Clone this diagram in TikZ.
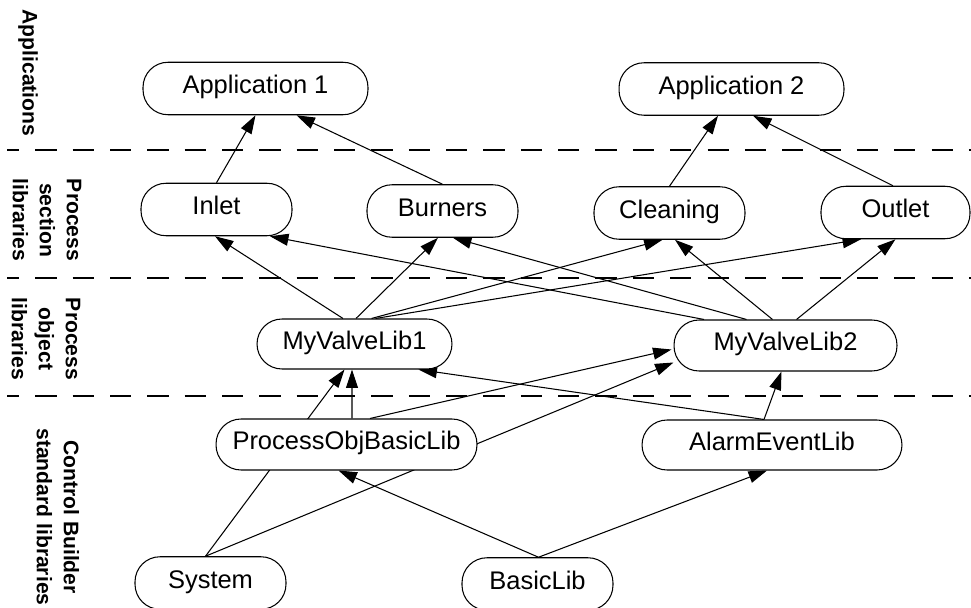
\documentclass[tikz,border=0pt]{standalone}
\usepackage{fontspec}
\setmainfont{Liberation Sans}
\usetikzlibrary{calc,arrows.meta,backgrounds}

\begin{document}
\begin{tikzpicture}[x=0.02cm, y=-0.02cm,
    lib/.style={draw, line width=0.6pt, fill=white, rounded corners=0.5cm,
        minimum height=1.05cm, inner sep=0pt,
        text height=10.5pt, text depth=4.8pt,
        font=\fontsize{14.5}{17}\selectfont},
    link/.style={line width=0.6pt, -{Triangle[length=10.5pt,width=6.8pt]}},
    tier/.style={rotate=-90, align=center,
        font=\bfseries\fontsize{12}{15.35}\selectfont},
    layerline/.style={line width=1.4pt, dash pattern=on 0.425cm off 0.322cm,
        dash phase=0.18cm}]

    % Fix the picture size
    \useasboundingbox (0,0) rectangle (971,608);

    % Layer separators
    \draw[layerline] (7,150) -- (971,150);
    \draw[layerline] (7,278) -- (971,278);
    \draw[layerline] (7,396) -- (971,396);

    % Layer names
    \node[tier] (tapp)  at (28,73)  {Applications};
    \node[tier] (tsect) at (47,220) {Process\\section\\libraries};
    \node[tier] (tobj)  at (46,339) {Process\\object\\libraries};
    \node[tier] (tstd)  at (58,517) {Control Builder\\standard libraries};

    % Applications
    \node[lib, minimum width=4.5cm] (app1) at (255.5,88.5) {Application 1};
    \node[lib, minimum width=4.5cm] (app2) at (731.5,89) {Application 2};

    % Process section libraries
    \node[lib, minimum width=3.02cm] (inlet)    at (216.5,209.5) {Inlet};
    \node[lib, minimum width=3.02cm] (burners)  at (442.5,211) {Burners};
    \node[lib, minimum width=3.02cm] (cleaning) at (669.5,213) {Cleaning};
    \node[lib, minimum width=2.98cm] (outlet)   at (895.5,212.5) {Outlet};

    % Process object libraries
    \node[lib, minimum width=3.9cm, minimum height=1.0cm] (mvl1) at (354.5,344) {MyValveLib1};
    \node[lib, minimum width=4.46cm, minimum height=1.02cm] (mvl2) at (785.5,345.5) {MyValveLib2};

    % Control Builder standard libraries
    \node[lib, minimum width=5.22cm, minimum height=1.02cm] (pobl) at (346.5,444.5) {ProcessObjBasicLib};
    \node[lib, minimum width=5.2cm, minimum height=1.0cm] (ael) at (772,445) {AlarmEventLib};
    \node[lib, minimum width=3.02cm] (system)   at (210.5,583) {System};
    \node[lib, minimum width=3.02cm] (basiclib) at (537.5,584) {BasicLib};

    \begin{scope}[on background layer]
        % Section libraries into the applications
        \draw[link] (inlet.north) -- (app1.south);
        \draw[link] (burners.north) -- ($(app1.south)+(41,0)$);
        \draw[link] (cleaning.north) -- ($(app2.south)+(-13.5,0)$);
        \draw[link] ($(outlet.north)+(-2.5,0)$) -- ($(app2.south)+(21.5,0)$);

        % Object libraries into the section libraries
        \draw[link] ($(mvl1.north)+(-11.5,0)$) -- ($(inlet.south)+(-1.5,0)$);
        \draw[link] ($(mvl1.north)+(1.5,0)$) -- ($(burners.south)+(-4.5,0)$);
        \draw[link] ($(mvl1.north)+(17,0)$) -- ($(cleaning.south)+(-7,0)$);
        \draw[link] ($(mvl1.north)+(21,0)$) -- ($(outlet.south)+(-34.5,0)$);
        \draw[link] ($(mvl2.north)+(-81.5,0)$) -- ($(inlet.south)+(53.5,0)$);
        \draw[link] ($(mvl2.north)+(-39,0)$) -- ($(burners.south)+(10.5,0)$);
        \draw[link] ($(mvl2.north)+(-13,0)$) -- ($(cleaning.south)+(5.5,0)$);
        \draw[link] ($(mvl2.north)+(11,0)$) -- (outlet.south);

        % Standard libraries into the object libraries
        \draw[link] ($(system.north)+(-5,0)$) -- ($(mvl1.south)+(-10,0)$);
        \draw[link] ($(system.north)+(-5,0)$) -- ($(mvl2.west)+(0,17)$);
        \draw[link] ($(pobl.north)+(5.5,0)$) -- ($(mvl1.south)+(-2.5,0)$);
        \draw[link] ($(pobl.north)+(23.5,0)$) -- ($(mvl2.west)+(-2,4)$);
        \draw[link] ($(ael.north)+(-8,0)$) -- ($(mvl1.south)+(64,0)$);
        \draw[link] ($(ael.north)+(-8,0)$) -- ($(mvl2.south)+(-4,0)$);

        % Basic library into the standard libraries
        \draw[link] ($(basiclib.north)+(1,0)$) -- ($(pobl.south)+(-8,0)$);
        \draw[link] ($(basiclib.north)+(1,0)$) -- ($(ael.south)+(-5,0)$);
    \end{scope}

\end{tikzpicture}
\end{document}
